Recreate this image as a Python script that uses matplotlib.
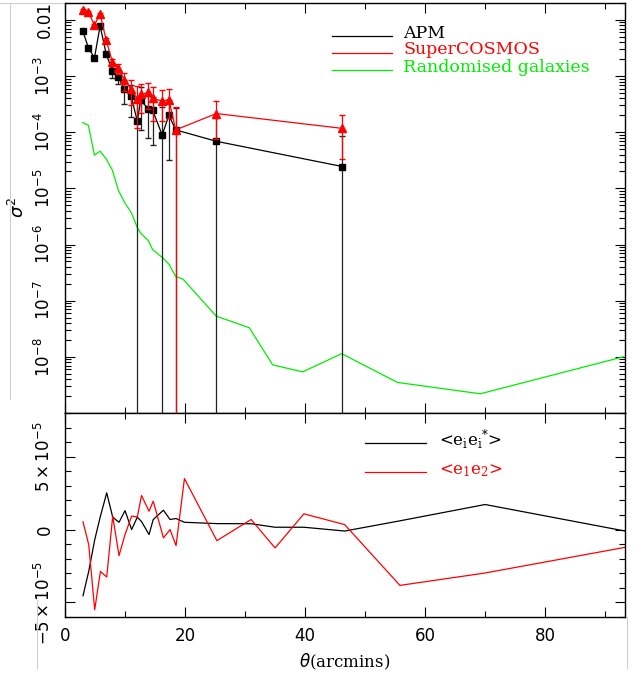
import matplotlib
matplotlib.use("Agg")
import matplotlib.pyplot as plt
import numpy as np
from matplotlib.ticker import FixedLocator, MultipleLocator, LogLocator, NullFormatter
from matplotlib.lines import Line2D

# --- top panel: sigma^2 vs theta ---
theta_top = [2.95, 3.9, 4.9, 5.85, 6.85, 7.9, 8.9, 9.9, 11.0, 12.05, 12.6, 13.9,
             14.6, 16.2, 17.3, 18.45, 25.2, 46.2]
apm = [6.4e-3, 3.2e-3, 2.1e-3, 7.8e-3, 2.5e-3, 1.23e-3, 9.5e-4, 5.8e-4, 4.4e-4,
       1.58e-4, 3.7e-4, 2.6e-4, 2.45e-4, 8.9e-5, 2.0e-4, 1.1e-4, 6.9e-5, 2.45e-5]
apm_err = [3e-4, 2e-4, 2e-4, 4e-4, 2e-4, 3e-4, 2.4e-4, 2.6e-4, 2.5e-4, 2.0e-4,
           2.6e-4, 1.8e-4, 1.86e-4, 1.9e-4, 1.68e-4, 1.6e-4, 1.1e-4, 6e-5]
sc = [0.015, 0.0137, 8.1e-3, 0.0128, 4.4e-3, 1.78e-3, 1.37e-3, 8.5e-4, 5.8e-4,
      3.9e-4, 4.7e-4, 5.1e-4, 4.0e-4, 3.6e-4, 3.8e-4, 1.1e-4, 2.15e-4, 1.17e-4]
sc_err = [5e-4, 5e-4, 4e-4, 6e-4, 4e-4, 2.4e-4, 2.6e-4, 3e-4, 2.7e-4, 2.7e-4,
          2.5e-4, 2.5e-4, 2.4e-4, 2e-4, 2e-4, 1.7e-4, 1.4e-4, 8.3e-5]

theta_rand = [2.95, 3.9, 4.9, 5.85, 6.9, 7.9, 8.9, 9.9, 11.1, 12.05, 12.6, 13.9,
              14.6, 16.2, 17.3, 18.45, 19.7, 25.2, 30.7, 34.6, 39.6, 46.1, 55.4,
              69.2, 93.0]
rand = [1.48e-4, 1.33e-4, 3.9e-5, 4.6e-5, 3.3e-5, 2.1e-5, 9.2e-6, 5.7e-6, 3.6e-6,
        2.0e-6, 1.6e-6, 1.17e-6, 8.1e-7, 5.9e-7, 4.5e-7, 2.7e-7, 2.4e-7, 5.3e-8,
        3.3e-8, 7.2e-9, 5.4e-9, 1.14e-8, 3.5e-9, 2.2e-9, 1.0e-8]

# --- bottom panel: correlations ---
theta_bot = [3.0, 3.95, 4.95, 5.9, 6.95, 7.95, 9.0, 10.0, 11.1, 12.05, 12.75, 14.0,
             14.7, 16.4, 17.5, 18.5, 19.9, 25.3, 31.0, 35.0, 39.8, 46.6, 55.8,
             70.0, 93.3]
eiei = [-4.54e-5, -2.87e-5, -0.7e-5, 0.92e-5, 2.52e-5, 0.85e-5, 0.5e-5, 1.3e-5,
        0.0, 0.85e-5, 0.55e-5, -0.34e-5, 0.69e-5, 1.33e-5, 0.69e-5, 0.76e-5,
        0.5e-5, 0.41e-5, 0.4e-5, 0.16e-5, 0.16e-5, -0.1e-5, 0.6e-5, 1.72e-5,
        -0.1e-5]
e1e2 = [0.53e-5, -1.03e-5, -5.5e-5, -2.87e-5, -3.26e-5, 0.92e-5, -1.79e-5,
        -0.34e-5, 0.92e-5, 0.87e-5, 2.34e-5, 1.26e-5, 1.95e-5, -0.57e-5, 0.0,
        -1.1e-5, 3.5e-5, -0.76e-5, 0.69e-5, -1.26e-5, 1.08e-5, 0.34e-5, -3.83e-5,
        -2.98e-5, -1.22e-5]

top_labels = ["0.01", r"$10^{-3}$", r"$10^{-4}$", r"$10^{-5}$",
              r"$10^{-6}$", r"$10^{-7}$", r"$10^{-8}$"]
top_ticks = [1e-2, 1e-3, 1e-4, 1e-5, 1e-6, 1e-7, 1e-8]
bot_labels = [r"$-5\times10^{-5}$", "0", r"$5\times10^{-5}$"]
bot_ticks = [-5e-5, 0, 5e-5]

green = "#00ee00"
serif = "DejaVu Serif"

fig = plt.figure(figsize=(6.37, 6.74), dpi=100)
W, H = 637.0, 674.0
x0, x1 = 65, 625
ax = fig.add_axes([x0 / W, 1 - 413 / H, (x1 - x0) / W, (413 - 3) / H])
bx = fig.add_axes([x0 / W, 1 - 617 / H, (x1 - x0) / W, (617 - 413) / H])

for a in (ax, bx):
    a.set_xlim(0, 93.3)
    a.xaxis.set_major_locator(MultipleLocator(20))
    a.xaxis.set_minor_locator(MultipleLocator(10))
    a.tick_params(which="both", direction="in", top=True, right=True,
                  labelsize=12, width=0.8)
    a.tick_params(which="major", length=7)
    a.tick_params(which="minor", length=4)
    for s in a.spines.values():
        s.set_linewidth(1.0)

# top panel
ax.set_yscale("log", nonpositive="clip")
ax.set_ylim(1e-9, 2e-2)
ax.plot(theta_rand, rand, color=green, lw=0.9, zorder=2)
ax.errorbar(theta_top, apm, yerr=apm_err, color="k", ecolor="#222222", lw=0.9,
            elinewidth=0.9, capsize=2.5, marker="s", ms=4.2, zorder=3)
ax.errorbar(theta_top, sc, yerr=sc_err, color="red", ecolor="red", lw=0.9,
            elinewidth=0.9, capsize=2.5, marker="^", ms=5.5, zorder=4)
ax.yaxis.set_major_locator(FixedLocator(top_ticks))
ax.set_yticklabels(top_labels)
ax.yaxis.set_minor_locator(LogLocator(base=10, subs=np.arange(2, 10)))
ax.yaxis.set_minor_formatter(NullFormatter())
ax.tick_params(axis="x", labelbottom=False)
ax.tick_params(axis="y", pad=8)
for lab in ax.get_yticklabels():
    lab.set_rotation(90)
    lab.set_va("center")
ax.set_ylabel(r"$\sigma^2$", fontsize=13)
ax.yaxis.set_label_coords((28 - x0) / (x1 - x0), 0.5)

# manual legend, top panel
leg_rows = [("APM", "k", 0.9195), ("SuperCOSMOS", "red", 0.879),
            ("Randomised galaxies", green, 0.8366)]
for txt, col, yy in leg_rows:
    ax.plot([0.477, 0.584], [yy, yy], color=col, lw=0.9, transform=ax.transAxes)
    ax.text(0.604, yy - 0.004, txt, color=col, family=serif, fontsize=12.5,
            va="baseline", transform=ax.transAxes)

# bottom panel
bx.plot(theta_bot, eiei, color="k", lw=0.9)
bx.plot(theta_bot, e1e2, color="red", lw=0.9)
bx.set_ylim(-6e-5, 8e-5)
bx.yaxis.set_major_locator(FixedLocator(bot_ticks))
bx.set_yticklabels(bot_labels)
bx.yaxis.set_minor_locator(MultipleLocator(1e-5))
bx.tick_params(axis="y", pad=8)
bx.tick_params(axis="x", pad=7)
for lab in bx.get_yticklabels():
    lab.set_rotation(90)
    lab.set_va("center")
bx.set_xlabel(r"$\theta$(arcmins)", family=serif, fontsize=12, labelpad=5)

bleg = [(r"<$\mathrm{e_ie_i}^{*}$>", "k", 0.853),
        (r"<$\mathrm{e_1e_2}$>", "red", 0.711)]
for txt, col, yy in bleg:
    bx.plot([0.536, 0.645], [yy, yy], color=col, lw=0.9, transform=bx.transAxes)
    bx.text(0.668, yy - 0.01, txt, color=col, family=serif, fontsize=12,
            va="baseline", transform=bx.transAxes, math_fontfamily="dejavuserif")

# faint scan frame lines
for (xa, ya, xb, yb) in [(10, 3, 10, 399), (0, 3, 63, 3), (37, 600, 37, 668),
                         (627, 617, 627, 668)]:
    fig.add_artist(Line2D([xa / W, xb / W], [1 - ya / H, 1 - yb / H],
                          color="#cfcfcf", lw=0.8))

fig.savefig("out.png", dpi=100)
